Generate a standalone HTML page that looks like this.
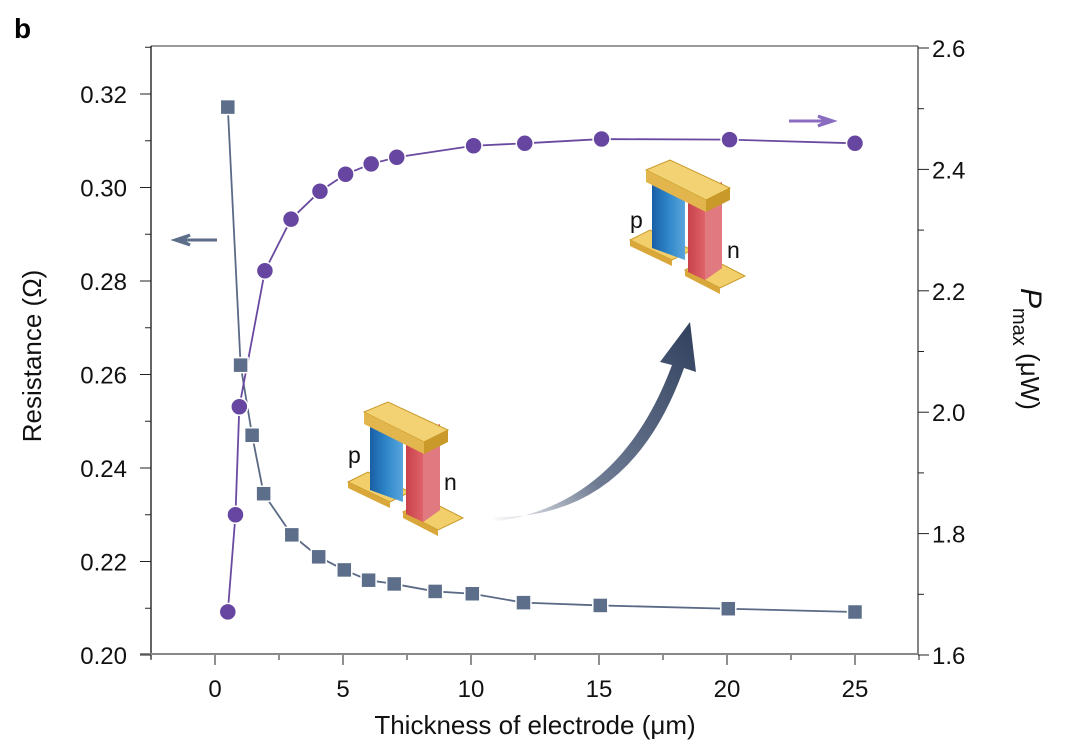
<!DOCTYPE html>
<html><head><meta charset="utf-8"><style>
html,body{margin:0;padding:0;background:#fff;}
svg{display:block;font-family:"Liberation Sans",sans-serif;}
</style></head><body>
<svg id="chart" width="1068" height="753" viewBox="0 0 1068 753">
<defs>
<linearGradient id="arrowGrad" x1="0" y1="1" x2="1" y2="0">
<stop offset="0" stop-color="#3a4a66" stop-opacity="0"/>
<stop offset="0.35" stop-color="#4a5a78" stop-opacity="0.8"/>
<stop offset="1" stop-color="#2f3f5c"/>
</linearGradient>
<linearGradient id="pGrad" x1="0" x2="1"><stop offset="0" stop-color="#1a5fa6"/><stop offset="0.5" stop-color="#2f86c9"/><stop offset="1" stop-color="#5aa6dd"/></linearGradient>
<linearGradient id="nGrad" x1="0" x2="1"><stop offset="0" stop-color="#c8424a"/><stop offset="0.5" stop-color="#e0636a"/><stop offset="1" stop-color="#d9565e"/></linearGradient>
</defs>
<text x="14" y="38" font-size="28" font-weight="bold">b</text>
<g id="axes"></g>
<g id="marks"></g>
<g id="insets"></g>
</svg>
<script>
const resX = [0.5, 1.0, 1.45, 1.9, 3.0, 4.05, 5.05, 6.0, 7.0, 8.6, 10.05, 12.05, 15.05, 20.05, 25.0];
const resY = [0.3172, 0.2620, 0.2470, 0.2345, 0.2257, 0.2210, 0.2182, 0.2160, 0.2152, 0.2136, 0.2131, 0.2112, 0.2106, 0.2099, 0.2092];
const pX = [0.5, 0.8, 0.95, 1.95, 2.97, 4.1, 5.1, 6.1, 7.1, 10.1, 12.1, 15.1, 20.1, 25.0];
const pY = [1.671, 1.831, 2.009, 2.233, 2.318, 2.364, 2.392, 2.409, 2.420, 2.439, 2.443, 2.450, 2.449, 2.443];
const xTicks = [0, 5, 10, 15, 20, 25];
const leftTicks = [0.20, 0.22, 0.24, 0.26, 0.28, 0.30, 0.32];
const rightTicks = [1.6, 1.8, 2.0, 2.2, 2.4, 2.6];

const NS = "http://www.w3.org/2000/svg";
const X = v => 215 + v * 25.6;
const YL = v => 655 - (v - 0.20) / 0.02 * 93.5;
const YR = v => 655 - (v - 1.6) / 0.2 * 121.4;
function mk(tag, attrs, parent) { const e = document.createElementNS(NS, tag); for (const k in attrs) e.setAttribute(k, attrs[k]); parent.appendChild(e); return e; }
const ax = document.getElementById('axes');
const mg = document.getElementById('marks');

let e;
e = mk('line', {x1:151,y1:46,x2:918,y2:46,stroke:'#333','stroke-width':1}, ax);
 
e = mk('line', {x1:151,y1:46,x2:151,y2:659,stroke:'#111','stroke-width':1.3}, ax);
 
e = mk('line', {x1:918,y1:46,x2:918,y2:655,stroke:'#333','stroke-width':1.2}, ax);
 
e = mk('line', {x1:140,y1:654,x2:918,y2:654,stroke:'#888','stroke-width':2}, ax);
 

for (let v = -2.5; v <= 27.5; v += 2.5) {
  const major = Math.abs(v % 5) < 1e-6;
  e = mk('line', {x1:X(v),y1:655,x2:X(v),y2:major?665:660,stroke:'#222','stroke-width':1}, ax);
   
}
xTicks.forEach(v => { e = mk('text', {x:X(v),y:697,'font-size':24,'text-anchor':'middle',fill:'#111'}, ax); e.textContent = v;
    });
for (let v = 0.20; v <= 0.3301; v += 0.01) {
  const major = Math.round(v * 100) % 2 === 0;
  e = mk('line', {x1:major?140:145,y1:YL(v),x2:151,y2:YL(v),stroke:'#222','stroke-width':1}, ax);
   
}
leftTicks.forEach(v => { e = mk('text', {x:127,y:YL(v)+9,'font-size':24,'text-anchor':'end',fill:'#111'}, ax); e.textContent = v.toFixed(2);
    });
for (let v = 1.6; v <= 2.6001; v += 0.1) {
  const major = Math.round(v * 10) % 2 === 0;
  e = mk('line', {x1:918,y1:YR(v),x2:major?929:924,y2:YR(v),stroke:'#222','stroke-width':1}, ax);
   
}
rightTicks.forEach(v => { e = mk('text', {x:932,y:YR(v)+9,'font-size':24,fill:'#111'}, ax); e.textContent = v.toFixed(1);
    });

e = mk('text', {x:535,y:734,'font-size':26,'text-anchor':'middle',fill:'#111'}, ax);
e.textContent = 'Thickness of electrode (\u03bcm)';
 
e = mk('text', {x:0,y:0,'font-size':26,'text-anchor':'middle',fill:'#111',transform:'translate(41,356) rotate(-90)'}, ax);
e.textContent = 'Resistance (\u03a9)';
 
e = mk('text', {x:0,y:0,'font-size':26,fill:'#111',transform:'translate(1021,288) rotate(90)'}, ax);
e.innerHTML = '<tspan font-style="italic" font-size="30">P</tspan><tspan font-size="20" dy="8">max</tspan><tspan dy="-8"> (\u03bcW)</tspan>';
 

e = mk('polyline', {points: resX.map((v,i)=>X(v)+','+YL(resY[i])).join(' '), fill:'none', stroke:'#5a6a85','stroke-width':1.8}, mg);
 
e = mk('polyline', {points: pX.map((v,i)=>X(v)+','+YR(pY[i])).join(' '), fill:'none', stroke:'#6a4aa0','stroke-width':1.8}, mg);
 
resX.forEach((v,i) => { e = mk('rect', {x:X(v)-7.5,y:YL(resY[i])-7.5,width:15,height:15,fill:'#5d6e8a',stroke:'#fff','stroke-width':1.5}, mg);
    });
pX.forEach((v,i) => { e = mk('circle', {cx:X(v),cy:YR(pY[i]),r:8.5,fill:'#6646a0',stroke:'#fff','stroke-width':1.5}, mg);
    });

e = mk('path', {d:'M217,240 L180,240 M180,240 L190,235 L175,240 L190,245 Z', stroke:'#5d6e8a','stroke-width':3,fill:'#5d6e8a'}, mg);
 
e = mk('path', {d:'M789,121 L828,121 M828,121 L818,116 L833,121 L818,126 Z', stroke:'#8a6cc0','stroke-width':3,fill:'#8a6cc0'}, mg);
 

const ins = document.getElementById('insets');
function device(g, ox, oy, name) {
  const grp = mk('g', {transform:`translate(${ox},${oy})`}, g);
   
  mk('polygon',{points:'0,80 20,70 62,90 42,100',fill:'#f2cf6b',stroke:'#c99a2a','stroke-width':1},grp);
  mk('polygon',{points:'0,80 42,100 42,106 0,86',fill:'#d9a73a'},grp);
  mk('polygon',{points:'55,110 80,98 115,116 90,128',fill:'#f2cf6b',stroke:'#c99a2a','stroke-width':1},grp);
  mk('polygon',{points:'55,110 90,128 90,134 55,116',fill:'#d9a73a'},grp);
  mk('polygon',{points:'22,20 55,32 55,100 22,88',fill:'url(#pGrad)'},grp);
  mk('polygon',{points:'58,36 92,22 92,108 75,120 58,112',fill:'url(#nGrad)'},grp);
  mk('polygon',{points:'75,50 92,40 92,108 75,120',fill:'#e07a80'},grp);
  mk('polygon',{points:'16,10 40,0 100,28 76,40',fill:'#f3d274',stroke:'#c99a2a','stroke-width':1},grp);
  mk('polygon',{points:'16,10 76,40 76,52 16,22',fill:'#e2b54d'},grp);
  mk('polygon',{points:'76,40 100,28 100,40 76,52',fill:'#c99a2a'},grp);
}
device(ins, 348, 402, 'device-small');
device(ins, 630, 160, 'device-large');
[[348,463,'p'],[444,490,'n'],[630,228,'p'],[727,258,'n']].forEach(a=>{
  e = mk('text',{x:a[0],y:a[1],'font-size':23,fill:'#111'},ins); e.textContent=a[2];
   
});
e = mk('path',{d:'M493,522 Q620,505 672,365 L660,362 L690,322 L696,372 L684,368 Q630,520 493,517 Z',fill:'url(#arrowGrad)'},ins);
 
</script>
</body></html>
